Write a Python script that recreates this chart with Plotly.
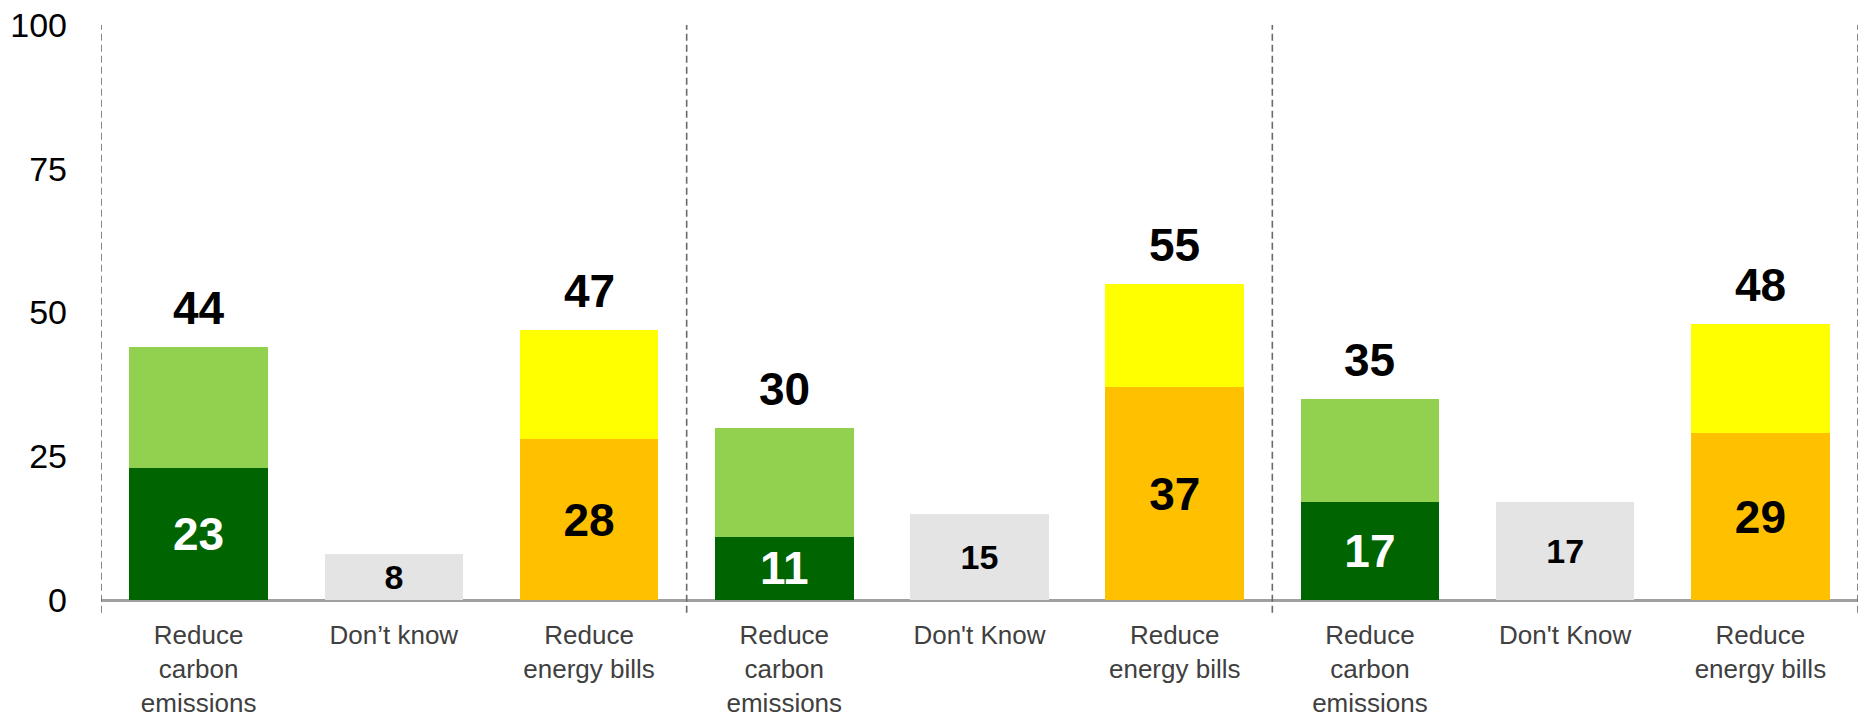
import plotly.graph_objects as go

# Data
categories = ["Reduce<br>carbon<br>emissions", "Don’t know", "Reduce<br>energy bills",
              "Reduce<br>carbon<br>emissions", "Don't Know", "Reduce<br>energy bills",
              "Reduce<br>carbon<br>emissions", "Don't Know", "Reduce<br>energy bills"]
carbon_strong = [23, 11, 17]      # dark green bottom segment
carbon_total = [44, 30, 35]
dont_know = [8, 15, 17]
bills_strong = [28, 37, 29]       # orange bottom segment
bills_total = [47, 55, 48]
y_ticks = [0, 25, 50, 75, 100]

FONT = "Liberation Sans, Arial, sans-serif"
BAR_W = 0.71

x_carbon = [0, 3, 6]
x_dk = [1, 4, 7]
x_bills = [2, 5, 8]

carbon_rest = [t - s for t, s in zip(carbon_total, carbon_strong)]
bills_rest = [t - s for t, s in zip(bills_total, bills_strong)]

fig = go.Figure()

fig.add_trace(go.Bar(x=x_carbon, y=carbon_strong, width=BAR_W, marker_color="#006400",
                     marker_line_width=0,
                     text=[str(v) for v in carbon_strong], textposition="inside",
                     insidetextanchor="middle",
                     textfont=dict(family=FONT, size=46, color="white", weight="bold")))
fig.add_trace(go.Bar(x=x_carbon, y=carbon_rest, width=BAR_W, marker_color="#92D050",
                     marker_line_width=0))
fig.add_trace(go.Bar(x=x_dk, y=dont_know, width=BAR_W, marker_color="#E4E4E4",
                     marker_line_width=0,
                     text=[str(v) for v in dont_know], textposition="inside",
                     insidetextanchor="middle",
                     textfont=dict(family=FONT, size=34, color="black", weight="bold")))
fig.add_trace(go.Bar(x=x_bills, y=bills_strong, width=BAR_W, marker_color="#FFC000",
                     marker_line_width=0,
                     text=[str(v) for v in bills_strong], textposition="inside",
                     insidetextanchor="middle",
                     textfont=dict(family=FONT, size=46, color="black", weight="bold")))
fig.add_trace(go.Bar(x=x_bills, y=bills_rest, width=BAR_W, marker_color="#FFFF00",
                     marker_line_width=0))

# total labels above stacked bars
for xs, tots in ((x_carbon, carbon_total), (x_bills, bills_total)):
    for xv, tv in zip(xs, tots):
        fig.add_annotation(x=xv, y=tv, text=str(tv), showarrow=False, yanchor="bottom",
                           yshift=11, font=dict(family=FONT, size=46, color="black", weight="bold"))

# dashed group separators
for xv in (-0.5, 2.5, 5.5, 8.5):
    fig.add_shape(type="line", xref="x", yref="paper", x0=xv, x1=xv, y0=-0.022, y1=1.0,
                  line=dict(color="#6A6A6A", width=1.6, dash="7px,4px"))

fig.update_layout(
    width=1862, height=717,
    barmode="stack",
    showlegend=False,
    plot_bgcolor="white", paper_bgcolor="white",
    margin=dict(l=101, r=4, t=25, b=117, autoexpand=False),
    font=dict(family=FONT),
    xaxis=dict(range=[-0.5, 8.5], tickvals=list(range(9)), ticktext=categories,
               showgrid=False, zeroline=False, showline=False, ticks="",
               automargin=False,
               tickfont=dict(family=FONT, size=26, color="#404040"),
               ticklabelstandoff=17),
    yaxis=dict(range=[0, 100], tickvals=y_ticks, showgrid=False, zeroline=True,
               automargin=False,
               zerolinecolor="#A0A0A0", zerolinewidth=2.5, showline=False, ticks="",
               tickfont=dict(family=FONT, size=34, color="black"),
               ticklabelstandoff=33),
)

fig.write_html("out.html")
